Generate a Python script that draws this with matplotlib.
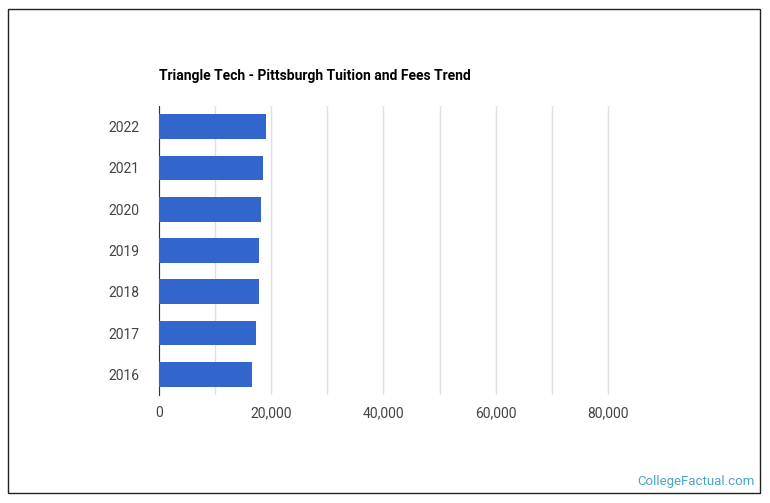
import matplotlib
matplotlib.use("Agg")
import matplotlib.pyplot as plt
from matplotlib.patches import Rectangle

years = ["2016", "2017", "2018", "2019", "2020", "2021", "2022"]
tuition = [16580, 17300, 17850, 17850, 18200, 18560, 19100]
ticks = [0, 20000, 40000, 60000, 80000]
tick_labels = ["0", "20,000", "40,000", "60,000", "80,000"]

plt.rcParams['font.family'] = ['Roboto', 'DejaVu Sans']
fig = plt.figure(figsize=(7.70, 5.03), dpi=100)
fig.patches.append(Rectangle((8/770, 1-493/503), 752/770, 484/503, transform=fig.transFigure,
                             fill=False, edgecolor='#222222', lw=1))
L, R, T, B = 159, 720, 106, 395
ax = fig.add_axes([L/770, 1-B/503, (R-L)/770, (B-T)/503])
ax.barh(years, tuition, height=0.6, color='#3366cc', zorder=3)
ax.set_xlim(0, 100000)
ax.set_ylim(-0.5, 6.5)
ax.set_xticks(range(0, 90000, 10000))
ax.set_xticklabels(["0", "", "20,000", "", "40,000", "", "60,000", "", "80,000"])
ax.grid(axis='x', color='#e0e0e0', lw=1, zorder=0)
for s in ['top', 'right', 'bottom']:
    ax.spines[s].set_visible(False)
ax.spines['left'].set_color('#333333')
ax.tick_params(length=0, labelsize=10, colors='#444444', pad=8)
ax.tick_params(axis='y', pad=14)
fig.text(159/770, 1-76/503, "Triangle Tech - Pittsburgh Tuition and Fees Trend",
         fontsize=10, fontweight='bold', va='center', ha='left', color='#000000')
fig.text(755/770, 1-481/503, "CollegeFactual.com", fontsize=9.5, color='#4aa3c8',
         ha='right', va='center')
fig.savefig("out.png", dpi=100)
